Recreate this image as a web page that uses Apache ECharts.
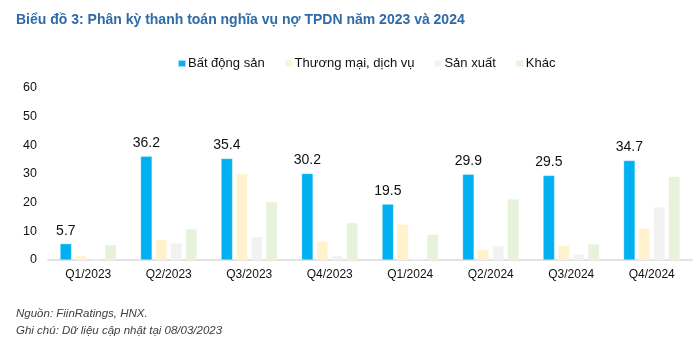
<!DOCTYPE html>
<html><head><meta charset="utf-8">
<script src="https://cdn.jsdelivr.net/npm/echarts@6/dist/echarts.min.js"></script>
<style>html,body{margin:0;padding:0;background:#fff}#c{width:700px;height:359px}</style>
</head><body><div id="c"></div>
<script>
var categories = ['Q1/2023','Q2/2023','Q3/2023','Q4/2023','Q1/2024','Q2/2024','Q3/2024','Q4/2024'];
var seriesNames = ['Bất động sản','Thương mại, dịch vụ','Sản xuất','Khác'];
var batDongSan = [5.7, 36.2, 35.4, 30.2, 19.5, 29.9, 29.5, 34.7];
var thuongMai = [1.5, 7.1, 30.1, 6.6, 12.5, 3.6, 5.0, 11.1];
var sanXuat = [0, 5.9, 8.1, 1.5, 0.4, 5.0, 2.0, 18.5];
var khac = [5.3, 10.8, 20.3, 13.0, 8.9, 21.3, 5.6, 29.2];
var yTicks = [0, 10, 20, 30, 40, 50, 60];
var titleText = 'Biểu đồ 3: Phân kỳ thanh toán nghĩa vụ nợ TPDN năm 2023 và 2024';
var note1 = 'Nguồn: FiinRatings, HNX.';
var note2 = 'Ghi chú: Dữ liệu cập nhật tại 08/03/2023';

var colors = ['#00B0F0', '#FFF2CC', '#F2F2F2', '#E6F3DA'];
var dataSets = [batDongSan, thuongMai, sanXuat, khac];
var font = 'Liberation Sans, Arial, sans-serif';

var chart = echarts.init(document.getElementById('c'), null, {renderer: 'canvas'});
var series = dataSets.map(function (d, i) {
  return {
    name: seriesNames[i], type: 'bar', data: d,
    barWidth: 11.5, barGap: '30%',
    itemStyle: {color: colors[i], borderColor: 'rgba(255,255,255,0.6)', borderWidth: 0.5},
    label: i === 0 ? {show: true, position: 'top', distance: 6, color: '#111', fontSize: 14, fontFamily: font,
      formatter: function (p) { return p.value.toFixed(1); }} : {show: false},
    silent: true
  };
});
chart.setOption({
  animation: false,
  textStyle: {fontFamily: font},
  title: [
    {text: titleText, left: 11, top: 8, textStyle: {fontSize: 14, fontWeight: 'bold', color: '#2F6BA8', fontFamily: font}},
    {text: note1, left: 11, top: 303, textStyle: {fontSize: 11.5, fontWeight: 'normal', fontStyle: 'italic', color: '#404040', fontFamily: font}},
    {text: note2, left: 11, top: 320, textStyle: {fontSize: 11.5, fontWeight: 'normal', fontStyle: 'italic', color: '#404040', fontFamily: font}}
  ],
  legend: {
    top: 52, left: 172, itemWidth: 8, itemHeight: 7, itemGap: 19, icon: 'rect',
    textStyle: {fontSize: 13, color: '#111', fontFamily: font, padding: [0, 0, 0, -3]},
    data: seriesNames
  },
  grid: {left: 48, right: 8, top: 88, bottom: 99, containLabel: false},
  xAxis: {
    type: 'category', data: categories,
    axisLine: {lineStyle: {color: '#D9D9D9', width: 1.5}},
    axisTick: {show: false},
    axisLabel: {color: '#111', fontSize: 12, margin: 9, fontFamily: font}
  },
  yAxis: {
    type: 'value', min: yTicks[0], max: yTicks[yTicks.length - 1], interval: 10,
    axisLine: {show: false}, axisTick: {show: false}, splitLine: {show: false},
    axisLabel: {color: '#111', fontSize: 12.5, margin: 11, fontFamily: font}
  },
  series: series
});
</script></body></html>
